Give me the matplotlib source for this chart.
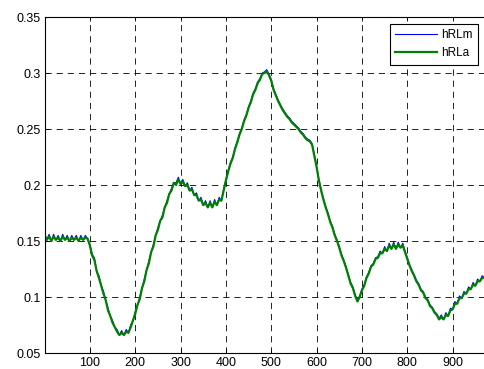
import numpy as np
import matplotlib
matplotlib.use('Agg')
import matplotlib.pyplot as plt

plt.rcParams['font.family'] = ['Liberation Sans', 'DejaVu Sans']
plt.rcParams['lines.scale_dashes'] = False

# samples every 5 units
x = np.arange(0, 985, 5)

hRLa = [0.155, 0.151, 0.154, 0.150, 0.154, 0.151, 0.153, 0.150, 0.154, 0.151,
        0.153, 0.150, 0.153, 0.151, 0.153, 0.150, 0.153, 0.151, 0.153, 0.152,
        0.146, 0.137, 0.133, 0.123, 0.117, 0.110, 0.103, 0.097, 0.088, 0.083,
        0.077, 0.073, 0.069, 0.066, 0.068, 0.066, 0.069, 0.068, 0.073, 0.079,
        0.085, 0.093, 0.098, 0.108, 0.114, 0.124, 0.130, 0.140, 0.145, 0.155,
        0.160, 0.168, 0.171, 0.180, 0.184, 0.192, 0.195, 0.202, 0.200, 0.205,
        0.201, 0.203, 0.199, 0.200, 0.195, 0.196, 0.191, 0.191, 0.186, 0.187,
        0.182, 0.184, 0.180, 0.184, 0.180, 0.185, 0.182, 0.187, 0.186, 0.195,
        0.204, 0.212, 0.219, 0.224, 0.232, 0.238, 0.245, 0.250, 0.257, 0.262,
        0.269, 0.274, 0.281, 0.285, 0.291, 0.294, 0.299, 0.300, 0.301, 0.298,
        0.293, 0.285, 0.280, 0.275, 0.271, 0.267, 0.264, 0.261, 0.259, 0.256,
        0.254, 0.252, 0.250, 0.247, 0.245, 0.242, 0.240, 0.239, 0.236, 0.226,
        0.216, 0.204, 0.195, 0.187, 0.180, 0.174, 0.167, 0.162, 0.155, 0.150,
        0.144, 0.137, 0.132, 0.126, 0.119, 0.112, 0.108, 0.101, 0.096, 0.100,
        0.106, 0.110, 0.117, 0.121, 0.127, 0.129, 0.134, 0.135, 0.139, 0.139,
        0.143, 0.141, 0.146, 0.143, 0.147, 0.143, 0.147, 0.144, 0.146, 0.140,
        0.134, 0.128, 0.123, 0.119, 0.114, 0.111, 0.106, 0.104, 0.099, 0.097,
        0.092, 0.090, 0.086, 0.084, 0.080, 0.082, 0.080, 0.084, 0.083, 0.088,
        0.089, 0.094, 0.094, 0.099, 0.099, 0.103, 0.103, 0.107, 0.107, 0.111,
        0.110, 0.114, 0.114, 0.117, 0.117, 0.120, 0.120]

hRLm = [0.157, 0.151, 0.156, 0.150, 0.156, 0.151, 0.155, 0.150, 0.156, 0.151,
        0.155, 0.150, 0.155, 0.151, 0.155, 0.150, 0.155, 0.151, 0.155, 0.152,
        0.147, 0.138, 0.135, 0.123, 0.119, 0.110, 0.105, 0.097, 0.090, 0.083,
        0.079, 0.073, 0.071, 0.066, 0.070, 0.066, 0.071, 0.068, 0.075, 0.079,
        0.087, 0.093, 0.100, 0.108, 0.116, 0.124, 0.132, 0.140, 0.147, 0.155,
        0.162, 0.168, 0.173, 0.180, 0.186, 0.192, 0.197, 0.202, 0.202, 0.207,
        0.201, 0.205, 0.199, 0.202, 0.195, 0.198, 0.191, 0.193, 0.186, 0.189,
        0.182, 0.186, 0.180, 0.186, 0.180, 0.187, 0.182, 0.189, 0.186, 0.196,
        0.205, 0.213, 0.220, 0.225, 0.233, 0.239, 0.246, 0.251, 0.258, 0.263,
        0.270, 0.275, 0.282, 0.286, 0.292, 0.295, 0.300, 0.301, 0.303, 0.299,
        0.294, 0.286, 0.281, 0.276, 0.272, 0.268, 0.265, 0.262, 0.260, 0.257,
        0.255, 0.253, 0.251, 0.248, 0.246, 0.243, 0.241, 0.240, 0.237, 0.227,
        0.217, 0.205, 0.196, 0.188, 0.181, 0.175, 0.168, 0.163, 0.156, 0.151,
        0.145, 0.138, 0.133, 0.127, 0.120, 0.113, 0.109, 0.102, 0.097, 0.101,
        0.107, 0.111, 0.118, 0.122, 0.128, 0.130, 0.135, 0.136, 0.141, 0.139,
        0.145, 0.141, 0.148, 0.143, 0.149, 0.143, 0.149, 0.144, 0.148, 0.141,
        0.135, 0.129, 0.124, 0.120, 0.115, 0.112, 0.107, 0.105, 0.100, 0.098,
        0.093, 0.091, 0.087, 0.085, 0.081, 0.084, 0.080, 0.086, 0.083, 0.090,
        0.089, 0.096, 0.094, 0.101, 0.099, 0.105, 0.103, 0.109, 0.107, 0.113,
        0.110, 0.116, 0.114, 0.119, 0.117, 0.122, 0.120]

xticks = [100, 200, 300, 400, 500, 600, 700, 800, 900]
yticks = [0.05, 0.1, 0.15, 0.2, 0.25, 0.3, 0.35]
yticklabels = ['0.05', '0.1', '0.15', '0.2', '0.25', '0.3', '0.35']

fig = plt.figure(figsize=(4.85, 3.69), dpi=100)
# axes runs past the right edge, as in the cropped original
ax = fig.add_axes([45/485, 16/369, 453/485, 336/369])

ax.plot(x, hRLm, color='#0000ff', lw=0.8, label='hRLm')
ax.plot(x, hRLa, color='#008000', lw=1.6, label='hRLa')

ax.set_xlim(1, 1000)
ax.set_ylim(0.05, 0.35)
ax.set_xticks(xticks)
ax.set_yticks(yticks)
ax.set_yticklabels(yticklabels)
ax.tick_params(direction='in', top=True, right=True, length=3, width=0.6,
               labelsize=9, pad=3)
ax.grid(True, color='black', linestyle=(0, (4.5, 3.5)), lw=0.6)
for s in ax.spines.values():
    s.set_linewidth(0.8)

leg = ax.legend(loc='upper left', bbox_to_anchor=(390/485, 1 - 24/369),
                bbox_transform=fig.transFigure, fancybox=False, framealpha=1,
                edgecolor='black', fontsize=8.5, handlelength=3.5,
                handletextpad=0.4, labelspacing=0.5, borderpad=0.45,
                borderaxespad=0)
leg.get_frame().set_linewidth(0.8)

fig.savefig('out.png', dpi=100)
